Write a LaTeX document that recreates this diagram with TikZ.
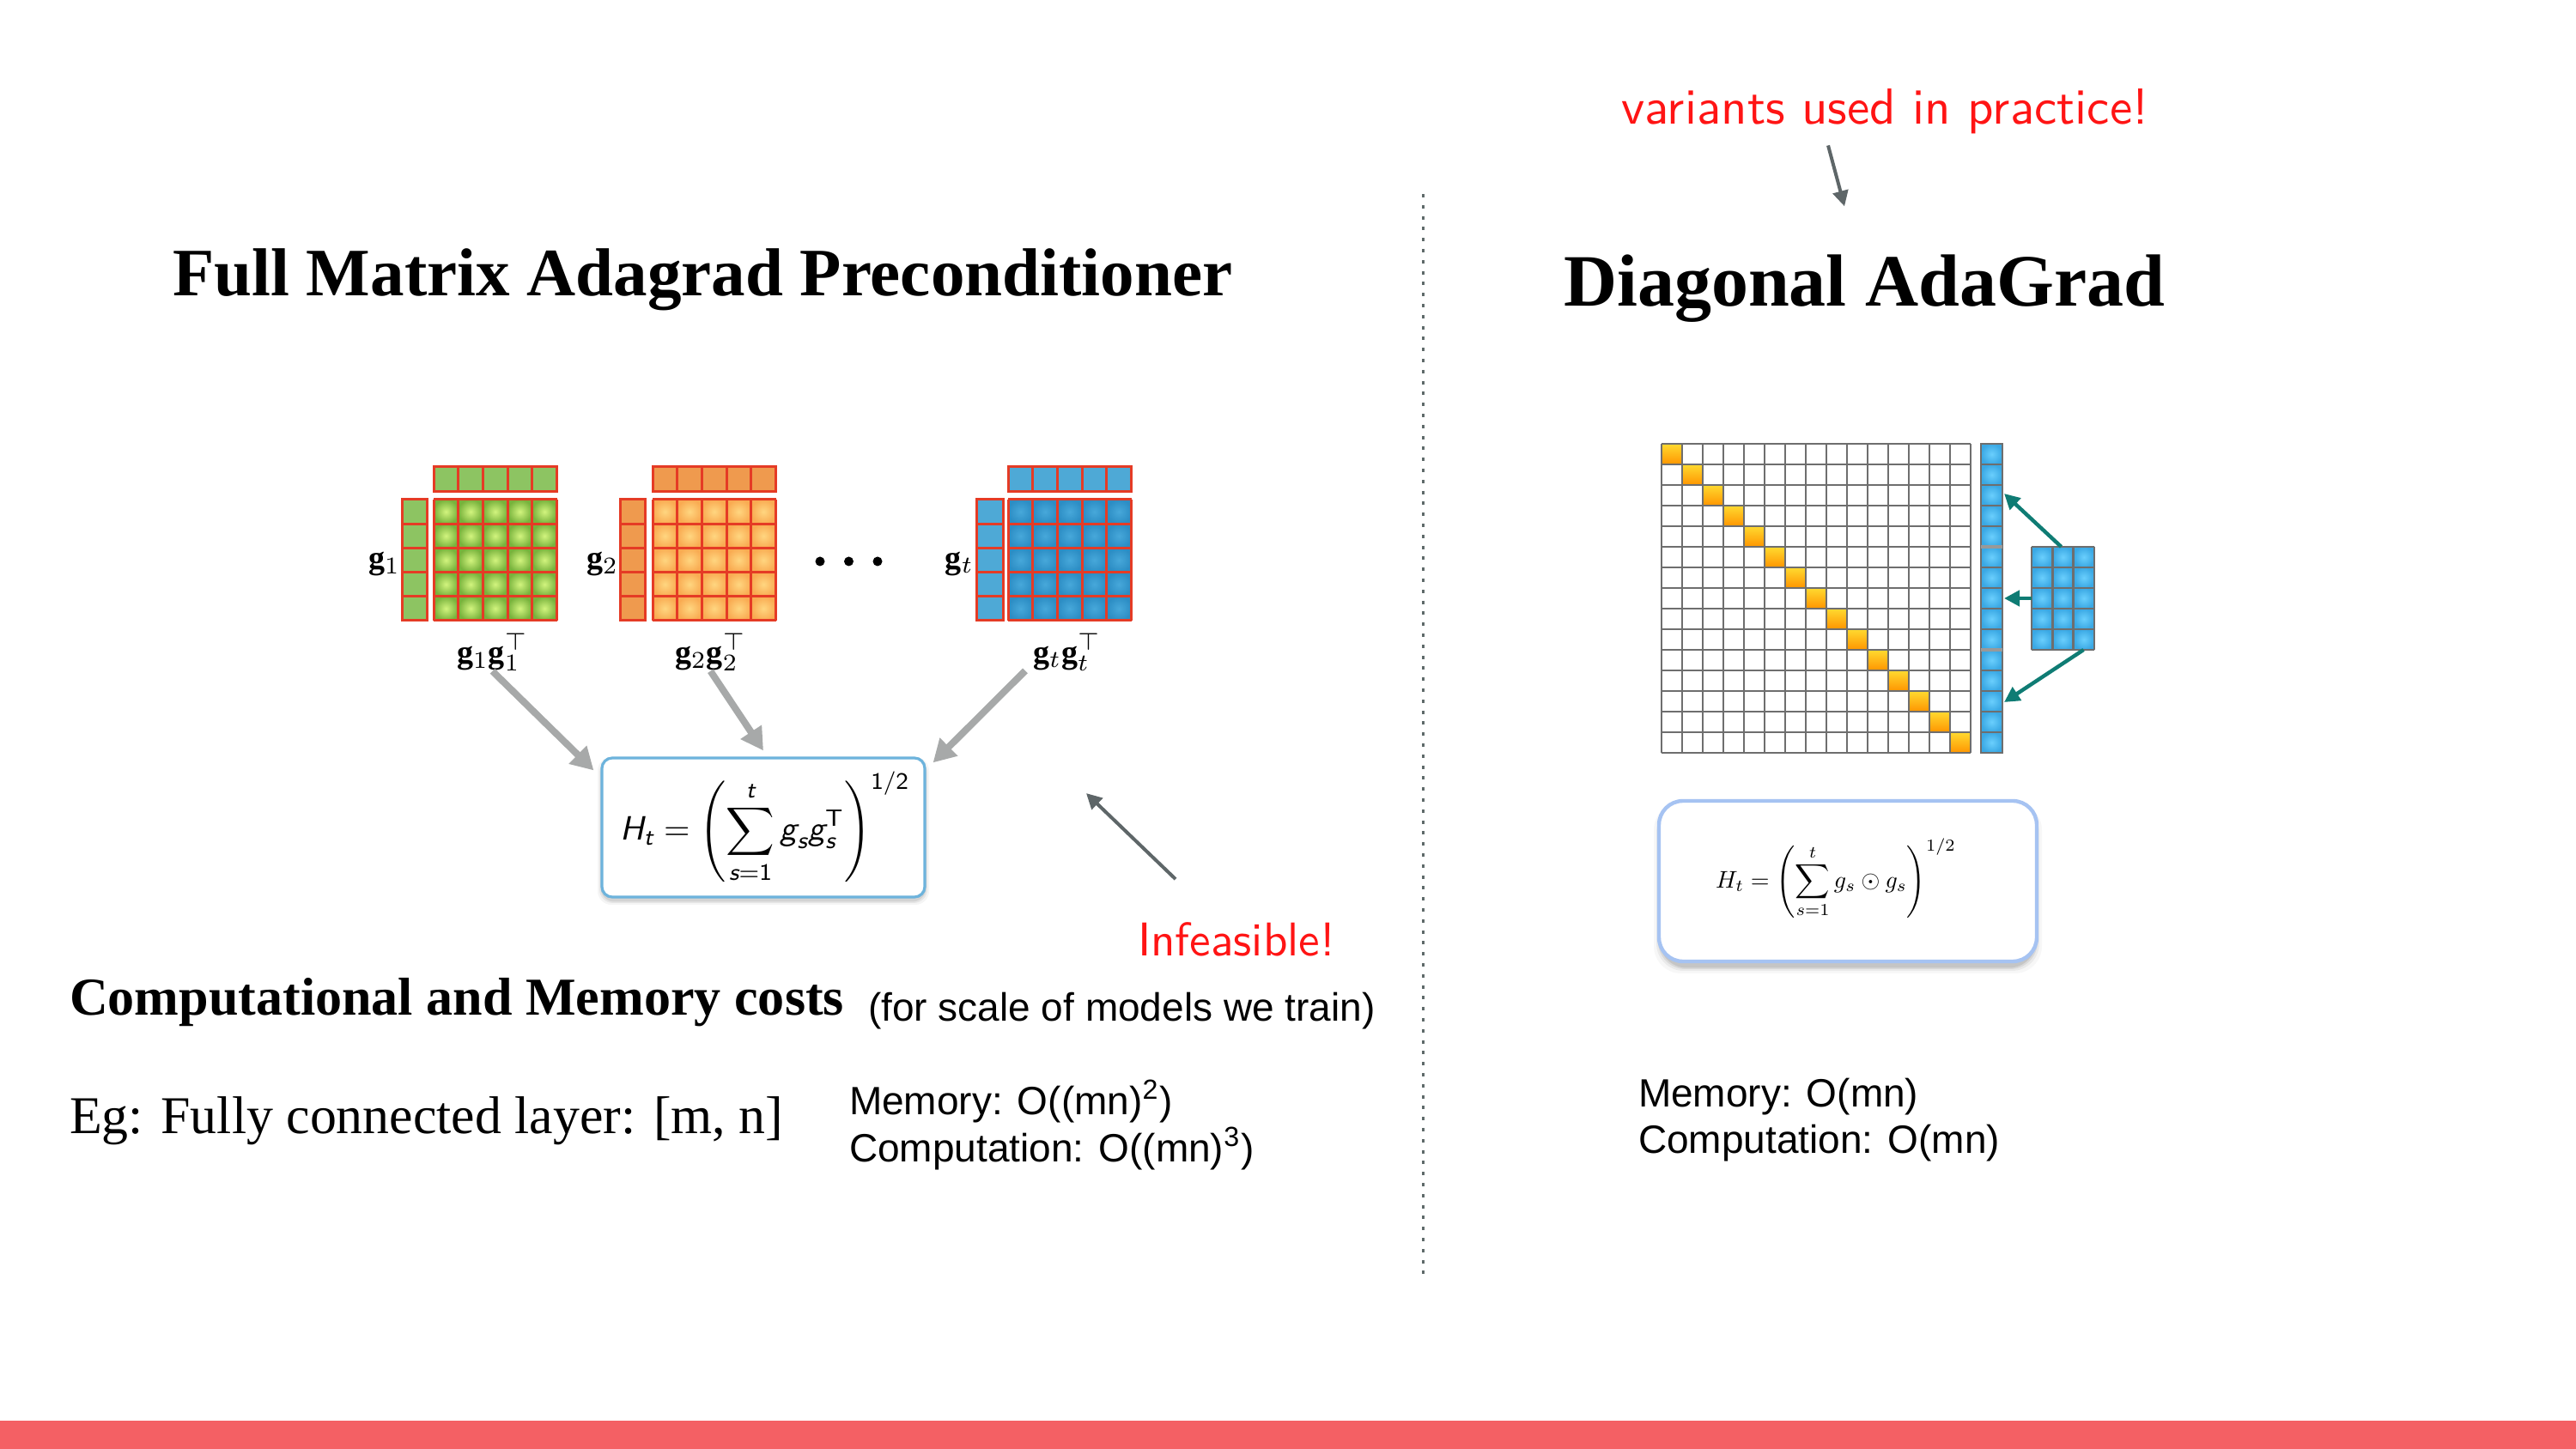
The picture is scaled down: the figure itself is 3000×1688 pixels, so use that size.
\documentclass[tikz,border=0pt]{standalone}
\usepackage{amsmath}
\usepackage{graphicx}
\usepackage{fontspec}
\setmainfont{Liberation Serif}
\newfontfamily\bodysans{Liberation Sans}
\usetikzlibrary{arrows.meta}

\definecolor{barred}{HTML}{F46064}
\definecolor{hred}{HTML}{FF1414}
\definecolor{cellred}{HTML}{E53B25}
\definecolor{arrgrey}{HTML}{A7A9A9}
\definecolor{darkarr}{HTML}{5E6668}
\definecolor{tealarr}{HTML}{0F7C74}
\definecolor{divgrey}{HTML}{5F6A6A}
\definecolor{gridc}{HTML}{6E6E6E}
\definecolor{boxblue}{HTML}{6DB3DC}
\definecolor{dboxblue}{HTML}{A6C3F2}
\definecolor{gvec}{HTML}{8DC462}
\definecolor{gin}{HTML}{D2F47E}
\definecolor{gout}{HTML}{78B23C}
\definecolor{ovec}{HTML}{EF9A4E}
\definecolor{oin}{HTML}{FFD680}
\definecolor{oout}{HTML}{F9AB52}
\definecolor{bvec}{HTML}{4EA9D6}
\definecolor{bin}{HTML}{47A8DA}
\definecolor{bout}{HTML}{2C8DC4}
\definecolor{dgtop}{HTML}{FFDA30}
\definecolor{dgbot}{HTML}{FF9500}
\definecolor{cin}{HTML}{6ACFFD}
\definecolor{cout}{HTML}{3AA8E4}

\newcommand{\si}[1]{\text{\sffamily\itshape #1}}

% #1 vector x, #2 vector width, #3 matrix x, #4 vec colour, #5 inner, #6 outer
\newcommand{\drawgmat}[6]{%
  \foreach \i in {0,...,4}{%
    \fill[#4] ({#3+\i*28.7},544) rectangle ++(28.7,29);
    \fill[#4] (#1,{582+\i*28.2}) rectangle ++(#2,28.2);
    \foreach \j in {0,...,4}{%
      \shade[inner color=#5, outer color=#6] ({#3+\i*28.7},{582+\j*28.2}) rectangle ++(28.7,28.2);
    }
  }
  \foreach \i in {0,...,5}{%
    \draw[cellline] ({#3+\i*28.7},544) -- ++(0,29);
    \draw[cellline] ({#3+\i*28.7},582) -- ++(0,141);
    \draw[cellline] (#3,{582+\i*28.2}) -- ++(143.5,0);
    \draw[cellline] (#1,{582+\i*28.2}) -- ++(#2,0);
  }
  \draw[cellline] (#3,544) rectangle ++(143.5,29);
  \draw[cellline] (#1,582) rectangle ++(#2,141);
}

\begin{document}
\begin{tikzpicture}[x=0.25pt,y=-0.25pt,
  txt/.style={inner sep=0pt, outer sep=0pt},
  body/.style={txt, anchor=base west, font=\bodysans\fontsize{11.5}{13}\selectfont},
  hand/.style={txt, anchor=base west, text=hred, font=\sffamily},
  glab/.style={txt, font=\fontsize{9.5}{11}\selectfont},
  cellline/.style={draw=cellred, line width=0.75pt},
  gline/.style={draw=gridc, line width=0.6pt},
  garrow/.style={draw=arrgrey, line width=2pt, -{Triangle[length=6.5pt,width=7pt]}},
  harrow/.style={draw=darkarr, line width=1pt, -{Triangle[length=4.5pt,width=4.5pt]}},
  tarrow/.style={draw=tealarr, line width=1.1pt, -{Triangle[length=4.5pt,width=4.5pt]}},
  divider/.style={draw=divgrey, line width=0.75pt, dash pattern=on 1pt off 2.2pt},
  bluecell/.style={inner color=cin, outer color=cout}
]
\useasboundingbox (0,0) rectangle (3000,1688);
\fill[white] (0,0) rectangle (3000,1688);

% bottom bar
\fill[barred] (0,1655) rectangle (3000,1688);

% divider
\coordinate (divtop) at (1657,226);
\coordinate (divbot) at (1657,1488);
\draw[divider] (divtop) -- (divbot);

% ---------------- left panel ----------------
\node[txt, anchor=base west] (title1) at (201,345)
  {\resizebox{308.5pt}{!}{\bfseries Full Matrix Adagrad Preconditioner}};

\drawgmat{468}{29.5}{505}{gvec}{gin}{gout}
\drawgmat{722}{29.5}{760}{ovec}{oin}{oout}
\drawgmat{1137}{31}{1174}{bvec}{bin}{bout}

\node[glab, anchor=base east] (g1) at (466,663) {$\mathbf{g}_1$};
\node[glab, anchor=base east] (g2) at (720,663) {$\mathbf{g}_2$};
\node[glab, anchor=base east] (gt) at (1134,663) {$\mathbf{g}_t$};
\node[glab, anchor=base west] (p1) at (532,773) {$\mathbf{g}_1\mathbf{g}_1^{\top}$};
\node[glab, anchor=base west] (p2) at (786,773) {$\mathbf{g}_2\mathbf{g}_2^{\top}$};
\node[glab, anchor=base west] (pt) at (1203,773) {$\mathbf{g}_t\mathbf{g}_t^{\top}$};
\foreach \dx in {955,988.5,1022}{\fill[black] (\dx,654) circle (5.5);}

% left formula box with soft shadow
\foreach \k/\o in {5/0.04,3/0.06,1.5/0.08}{%
  \fill[black, opacity=\o, rounded corners=4pt] ({701-\k},{887-\k}) rectangle ({1077+\k},{1049+\k});}
\node[draw=boxblue, line width=0.8pt, fill=white, rounded corners=3pt,
      minimum width=94pt, minimum height=40.5pt, inner sep=0pt] (hbox) at (889,964) {};
\node[txt] (hform) at (891,964) {\resizebox{84.5pt}{!}{$\displaystyle
  \si{H}_{\si{t}} = \left(\sum_{\si{s}=\textsf{1}}^{\si{t}} \si{g}_{\si{s}}\si{g}_{\si{s}}^{\textsf{T}}\right)^{\textsf{1/2}}$}};

\draw[garrow] (p1.south) -- ([shift={(-8,16)}]hbox.north west);
\draw[garrow] (p2.south) -- ([shift={(0,-7)}]hbox.north);
\draw[garrow] ([shift={(-9,0)}]pt.south west) -- ([shift={(8,7)}]hbox.north east);

% infeasible
\node[hand] (inf) at (1325,1113) {\resizebox{57.5pt}{!}{Infeasible!}};
\draw[harrow] ([shift={(44,-50)}]inf.north west) -- ([shift={(-60,-150)}]inf.north west);

% costs
\node[txt, anchor=base west] (costs) at (81,1182)
  {\resizebox{225.5pt}{!}{\bfseries Computational and Memory costs}};
\node[body] (scale) at (1011,1190) {(for scale of models we train)};
\node[txt, anchor=base west] (eg) at (81,1320)
  {\resizebox{207.8pt}{!}{Eg: Fully connected layer: [m, n]}};
\node[body] (mem1) at (989,1298) {Memory: O((mn)\textsuperscript{2})};
\node[body] (comp1) at (989,1353) {Computation: O((mn)\textsuperscript{3})};

% ---------------- right panel ----------------
\node[hand] (var) at (1888,145) {\resizebox{153.5pt}{!}{variants used in practice!}};
\node[txt, anchor=base west] (title2) at (1821,357)
  {\resizebox{175pt}{!}{\bfseries Diagonal AdaGrad}};
\draw[harrow] ([shift={(-66,13)}]var.south) -- ([shift={(-23,-57)}]title2.north);

% diagonal matrix
\foreach \i in {0,...,14}{%
  \shade[top color=dgtop, bottom color=dgbot] ({1935+\i*24},{517+\i*24}) rectangle ++(24,24);}
\foreach \k in {0,...,15}{%
  \draw[gline] ({1935+\k*24},517) -- ++(0,360);
  \draw[gline] (1935,{517+\k*24}) -- ++(360,0);}

% vector column
\node[txt, minimum width=6.25pt, minimum height=90pt] (vcol) at (2319.5,697) {};
\foreach \j in {0,...,14}{%
  \shade[bluecell] (2307,{517+\j*24}) rectangle ++(25,24);}
\foreach \j in {0,...,15}{\draw[gline] (2307,{517+\j*24}) -- ++(25,0);}
\draw[gline] (2307,517) rectangle (2332,877);
\draw[draw=gridc!70, line width=1pt] (2307,637) -- ++(25,0);
\draw[draw=gridc!70, line width=1pt] (2307,757) -- ++(25,0);

% block
\node[txt, minimum width=18.25pt, minimum height=30pt] (blk) at (2402.5,697) {};
\foreach \i in {0,...,2}{\foreach \j in {0,...,4}{%
  \shade[bluecell] ({2366+\i*24.33},{637+\j*24}) rectangle ++(24.33,24);}}
\foreach \i in {0,...,3}{\draw[gline] ({2366+\i*24.33},637) -- ++(0,120);}
\foreach \j in {0,...,5}{\draw[gline] (2366,{637+\j*24}) -- ++(73,0);}

\draw[tarrow] ([shift={(-2,0)}]blk.north) -- ([shift={(2,-122)}]vcol.east);
\draw[tarrow] (blk.west) -- ([shift={(2,0)}]vcol.east);
\draw[tarrow] ([shift={(24,0)}]blk.south) -- ([shift={(2,121)}]vcol.east);

% right formula box with shadow
\foreach \k/\o in {8/0.03,5/0.05,3/0.07,1.5/0.09}{%
  \fill[black, opacity=\o, rounded corners=8pt] ({1934-\k},{943-\k}) rectangle ({2370+\k},{1126+\k});}
\node[draw=dboxblue, line width=1.1pt, fill=white, rounded corners=7pt,
      minimum width=110pt, minimum height=46.75pt, inner sep=0pt] (dbox) at (2152,1026.5) {};
\node[txt] (dform) at (2138,1023) {\resizebox{70pt}{!}{$\displaystyle
  H_t = \left(\sum_{s=1}^{t} g_s \odot g_s\right)^{1/2}$}};

\node[body] (mem2) at (1908,1289) {Memory: O(mn)};
\node[body] (comp2) at (1908,1343) {Computation: O(mn)};
\end{tikzpicture}
\end{document}
